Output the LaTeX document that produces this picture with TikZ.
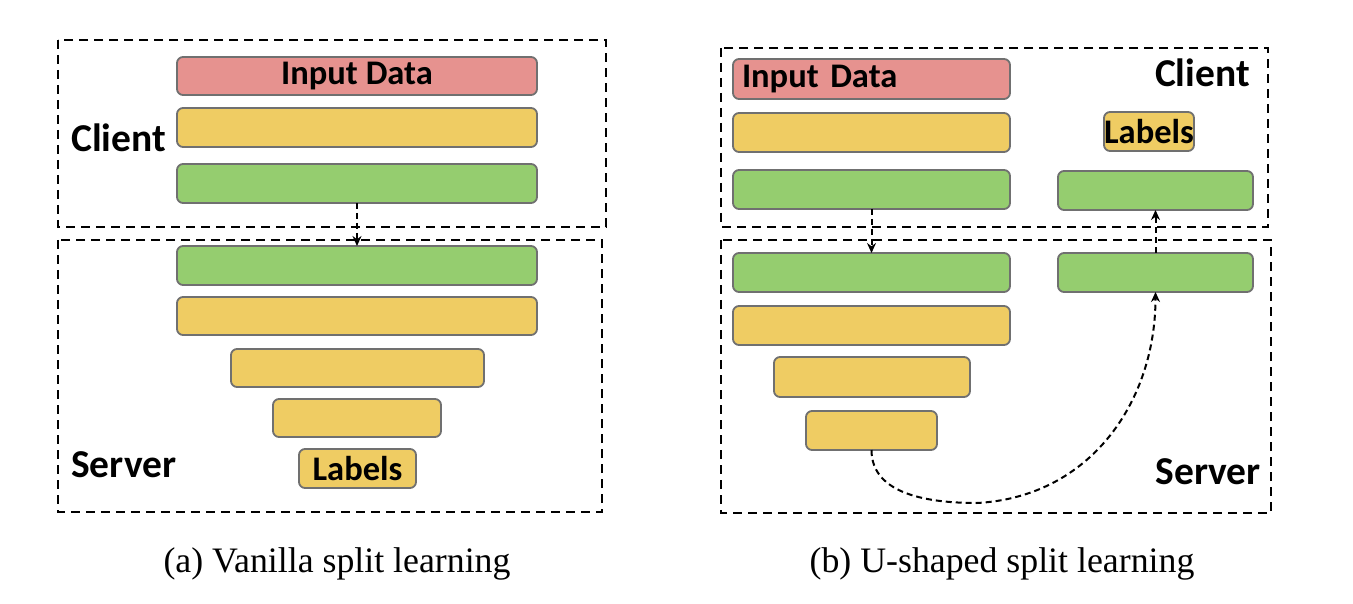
\documentclass[tikz,border=0pt]{standalone}
\usepackage{fontspec}
\usetikzlibrary{arrows.meta}
\newfontfamily\clbfont{Carlito}
\newfontfamily\tmsfont{Liberation Serif}
\definecolor{pinkc}{RGB}{230,146,143}
\definecolor{yelc}{RGB}{239,204,99}
\definecolor{grnc}{RGB}{149,205,111}
\definecolor{edgec}{RGB}{112,112,112}
\tikzset{
  bar/.style={draw=edgec, line width=1.8pt, rounded corners=6pt, inner sep=0pt, outer sep=0pt,
    font=\clbfont\bfseries\fontsize{34.5}{37}\selectfont},
  regionbox/.style={draw=black, line width=2.5pt, dash pattern=on 9pt off 6pt},
  sidelabel/.style={inner sep=0pt, font=\clbfont\bfseries\fontsize{39.5}{42}\selectfont},
  flow/.style={draw=black, line width=2pt, dash pattern=on 6pt off 4pt, -{Stealth[length=10pt,width=9pt]}},
  caption/.style={inner sep=0pt, anchor=base, font=\tmsfont\fontsize{35.8}{40}\selectfont}
}
\begin{document}
\begin{tikzpicture}[x=1pt,y=-1pt]
\useasboundingbox (0,0) rectangle (1353,604);
% ---------- (a) vanilla ----------
\draw[regionbox] (58,40) rectangle (606,227);
\draw[regionbox] (58,240) rectangle (602,512);
\node[bar, fill=pinkc, minimum width=360pt, minimum height=38pt] (a1) at (357,76) {Input Data};
\node[bar, fill=yelc, minimum width=360pt, minimum height=39pt] (a2) at (357,127.5) {};
\node[bar, fill=grnc, minimum width=360pt, minimum height=39pt] (a3) at (357,183.5) {};
\node[bar, fill=grnc, minimum width=360pt, minimum height=39pt] (a4) at (357,265.5) {};
\node[bar, fill=yelc, minimum width=360pt, minimum height=38pt] (a5) at (357,316) {};
\node[bar, fill=yelc, minimum width=253pt, minimum height=38pt] (a6) at (357.5,368) {};
\node[bar, fill=yelc, minimum width=168pt, minimum height=38pt] (a7) at (357,418) {};
\node[bar, fill=yelc, minimum width=117pt, minimum height=39pt] (a8) at (357.5,468.5) {Labels};
\node[sidelabel, anchor=west] (aclient) at (71,138) {Client};
\node[sidelabel, anchor=west] (aserver) at (71,465) {Server};
\draw[flow] (a3.south) -- (a4.north);
\node[caption] (capa) at (337,572) {(a) Vanilla split learning};
% ---------- (b) U-shaped ----------
\draw[regionbox] (721,48) rectangle (1268,227);
\draw[regionbox] (721,240) rectangle (1271,513);
\node[bar, fill=pinkc, minimum width=277pt, minimum height=40pt, inner xsep=9pt, text width=259pt, align=left] (b1) at (871.5,79) {Input Data};
\node[bar, fill=yelc, minimum width=277pt, minimum height=39pt] (b2) at (871.5,132.5) {};
\node[bar, fill=grnc, minimum width=277pt, minimum height=39pt] (b3) at (871.5,189.5) {};
\node[bar, fill=yelc, minimum width=90pt, minimum height=39pt] (b4) at (1149,131.5) {Labels};
\node[bar, fill=grnc, minimum width=195pt, minimum height=39pt] (b5) at (1155.5,190.5) {};
\node[bar, fill=grnc, minimum width=277pt, minimum height=39pt] (b6) at (871.5,272.5) {};
\node[bar, fill=yelc, minimum width=277pt, minimum height=39pt] (b7) at (871.5,325.5) {};
\node[bar, fill=yelc, minimum width=196pt, minimum height=40pt] (b8) at (872,377) {};
\node[bar, fill=yelc, minimum width=131pt, minimum height=39pt] (b9) at (871.5,430.5) {};
\node[bar, fill=grnc, minimum width=195pt, minimum height=39pt] (b10) at (1155.5,272.5) {};
\node[sidelabel, anchor=east] (bclient) at (1250,73) {Client};
\node[sidelabel, anchor=east] (bserver) at (1261,472) {Server};
\draw[flow] (b3.south) -- (b6.north);
\draw[flow] (b10.north) -- (b5.south);
\coordinate (ubottom) at (977,503);
\draw[flow] (b9.south) .. controls ([yshift=-45pt]b9.south) and (930,503) .. (ubottom)
  .. controls (1090,497) and ([yshift=-110pt]b10.south) .. (b10.south);
\node[caption] (capb) at (1002,572) {(b) U-shaped split learning};
\end{tikzpicture}
\end{document}
